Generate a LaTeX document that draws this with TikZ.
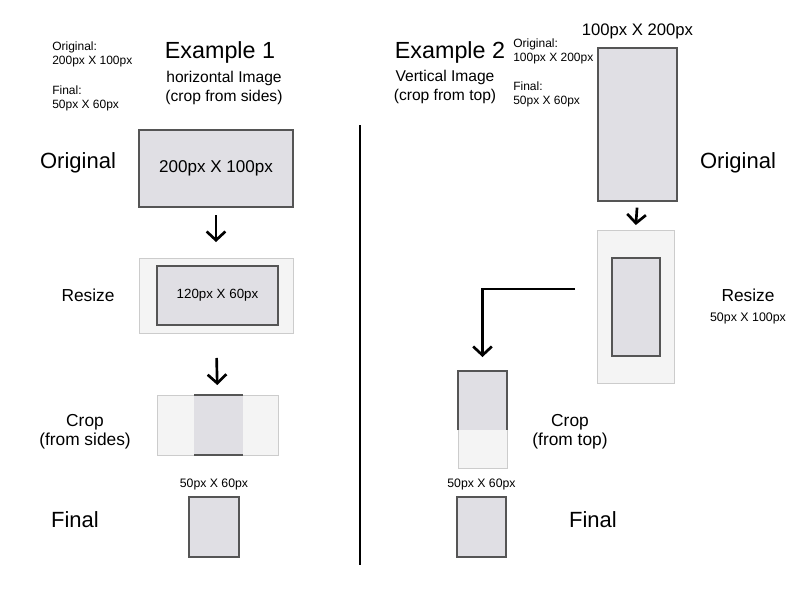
\documentclass[tikz,border=0pt]{standalone}
\usepackage{fontspec}
\setmainfont{Liberation Sans}
\usetikzlibrary{positioning, arrows.meta}
\definecolor{ImgFill}{HTML}{E0DFE4}
\definecolor{PadFill}{HTML}{F4F4F4}
\definecolor{ImgEdge}{HTML}{555555}
\definecolor{PadEdge}{HTML}{CCCCCC}
\newcommand{\fsz}[2]{\fontsize{#1pt}{#2pt}\selectfont}

\begin{document}
\begin{tikzpicture}[x=0.75pt, y=-0.75pt,
    img/.style={draw=ImgEdge, fill=ImgFill, line width=0.9pt, inner sep=0pt, outer sep=0pt},
    pad/.style={draw=PadEdge, fill=PadFill, line width=0.7pt, inner sep=0pt, outer sep=0pt},
    keep/.style={fill=ImgFill, inner sep=0pt, outer sep=0pt},
    sz/.style 2 args={minimum width=#1*0.75pt, minimum height=#2*0.75pt},
    arr/.style={line width=2pt, -{Straight Barb[length=6.5pt, width=14pt]}},
    big/.style={font=\fsz{16.5}{20}},
    mid/.style={font=\fsz{13}{14.25}, align=center},
    note/.style={font=\fsz{9}{10.5}, align=left, anchor=west, inner sep=0pt},
    title/.style={font=\fsz{17.5}{20}},
    sub/.style={font=\fsz{11.7}{14.25}, align=center}]
    \useasboundingbox (0,0) rectangle (800,600);

    \node[note] (info1) at (52,54) {Original:\\200px X 100px};
    \node[note] (fin1) at (52,98) {Final:\\50px X 60px};
    \node[title] (ex1) at (220,52) {Example 1};
    \node[sub] (ex1sub) at (224,87.5) {horizontal Image\\(crop from sides)};

    \node[img, sz={154}{77}, font=\fsz{12.8}{15}] (orig1) at (216,168.5) {200px X 100px};
    \node[pad, sz={154}{75}] (resize1) at (216,295.5) {};
    \node[img, sz={121}{59}, font=\fsz{10}{12}] (small1) at (217.5,295.5) {120px X 60px};
    \node[pad, sz={121}{60}] (crop1) at (217.5,425) {};
    \node[keep, sz={49}{60}] (keep1) at (218.5,425) {};
    \draw[ImgEdge, line width=0.9pt] (keep1.north west) -- (keep1.north east)
        (keep1.south west) -- (keep1.south east);
    \node[img, sz={50}{60}] (final1) at (214,527) {};
    \node[font=\fsz{9.2}{11}, above=2pt of final1] (size1) {50px X 60px};

    \draw[arr, shorten <=6pt, shorten >=12pt] (orig1.south) -- (resize1.north);
    \draw[arr, shorten <=18.75pt, shorten >=7.5pt] (resize1.south) -- (crop1.north);

    \node[big] (lorig1) at (78,163) {Original};
    \node[mid] (lres1) at (88,295) {Resize};
    \node[mid] (lcrop1) at (85,431.5) {Crop\\(from sides)};
    \node[big] (lfin1) at (75,520) {Final};

    \draw[line width=0.8pt] (360,125) -- (360,565);

    \node[title] (ex2) at (450,52) {Example 2};
    \node[sub] (ex2sub) at (445,87) {Vertical Image\\(crop from top)};
    \node[note] (info2) at (513,51.5) {Original:\\100px X 200px};
    \node[note] (fin2) at (513,94.5) {Final:\\50px X 60px};

    \node[img, sz={79}{153}] (orig2) at (637.5,124.5) {};
    \node[font=\fsz{12.5}{14}, above=3pt of orig2] (size2) {100px X 200px};
    \node[pad, sz={77}{153}] (resize2) at (635.5,306.5) {};
    \node[img, sz={48}{98}] (small2) at (636,307) {};
    \node[pad, sz={49}{97}] (crop2) at (482.5,419.5) {};
    \node[keep, sz={49}{59}] (keep2) at (482.5,400.5) {};
    \draw[ImgEdge, line width=0.9pt] (keep2.south west) -- (keep2.north west)
        -- (keep2.north east) -- (keep2.south east);
    \node[img, sz={49}{60}] (final2) at (481.5,527) {};
    \node[font=\fsz{9.2}{11}, above=2pt of final2] (size3) {50px X 60px};

    \coordinate (bend) at (483,289);
    \draw[arr, shorten <=5pt, shorten >=3.75pt] (orig2.south) -- (resize2.north);
    \draw[arr, shorten <=16.5pt, shorten >=10.5pt] (resize2.west |- bend) -| (crop2.north);

    \node[big] (lorig2) at (738,163) {Original};
    \node[mid] (lres2) at (748,295) {Resize};
    \node[font=\fsz{9.3}{11}] (lsize2) at (748,318) {50px X 100px};
    \node[mid] (lcrop2) at (570,431.5) {Crop\\(from top)};
    \node[big] (lfin2) at (593,520) {Final};
\end{tikzpicture}
\end{document}
